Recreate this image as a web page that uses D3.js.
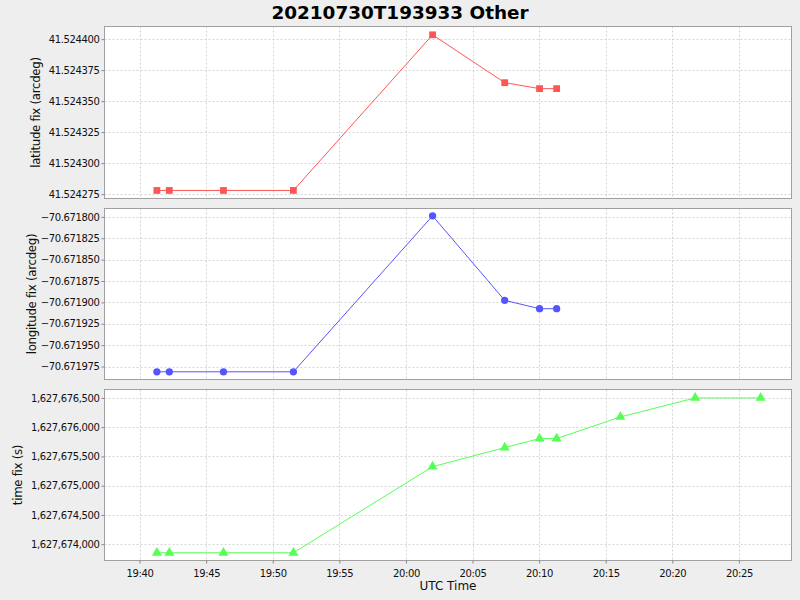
<!DOCTYPE html>
<html><head><meta charset="utf-8">
<script src="https://cdn.jsdelivr.net/npm/d3@7"></script>
<style>
html,body{margin:0;padding:0;background:#eeeeee;}
svg{display:block;font-family:"DejaVu Sans",sans-serif;}
</style></head>
<body><svg id="c" width="800" height="600"></svg>
<script>
// ---- data ----
const title = "20210730T193933 Other";
const times = ["19:41:18","19:42:14","19:46:18","19:51:33","20:02:00","20:07:25","20:10:02","20:11:19","20:16:06","20:21:43","20:26:38"];
const latitude = [41.524278,41.524278,41.524278,41.524278,41.5244035,41.5243649,41.5243601,41.5243601];
const longitude = [-70.6719812,-70.6719812,-70.6719812,-70.6719812,-70.6717988,-70.6718976,-70.6719074,-70.6719074];
const timeFix = [1627673853,1627673853,1627673853,1627673853,1627675325,1627675651,1627675805,1627675805,1627676175,1627676500,1627676500];
const xDomain = ["19:37:22","20:28:57"];
const xTicks = ["19:40","19:45","19:50","19:55","20:00","20:05","20:10","20:15","20:20","20:25"];
const latDomain = [41.5242715,41.5244102];
const latTicks = [41.524275,41.5243,41.524325,41.52435,41.524375,41.5244];
const lonDomain = [-70.6719902,-70.6717902];
const lonTicks = [-70.671975,-70.67195,-70.671925,-70.6719,-70.671875,-70.67185,-70.671825,-70.6718];
const tfDomain = [1627673721,1627676644];
const tfTicks = [1627674000,1627674500,1627675000,1627675500,1627676000,1627676500];

// ---- chart ----
const parseT = s => { const p = s.split(":").map(Number); return new Date(Date.UTC(2021,6,30,p[0],p[1],p[2]||0)); };
const svg = d3.select("#c");
const L = 104.5, R = 791.5;
const x = d3.scaleUtc().domain(xDomain.map(parseT)).range([L, R]);

svg.append("text").attr("x", 400).attr("y", 19).attr("text-anchor","middle")
  .attr("font-size","18.4px").attr("font-weight","bold").attr("fill","#000").text(title);

const panels = [
  {top:26.5, bot:198.5, dom:latDomain, ticks:latTicks, fmt:d3.format(".6f"), vals:latitude, color:"#ff5555", marker:"square", label:"latitude fix (arcdeg)", lx:36},
  {top:208.5, bot:379.5, dom:lonDomain, ticks:lonTicks, fmt:d3.format(".6f"), vals:longitude, color:"#5555ff", marker:"circle", label:"longitude fix (arcdeg)", lx:32},
  {top:389.5, bot:560.5, dom:tfDomain, ticks:tfTicks, fmt:d3.format(","), vals:timeFix, color:"#55ff55", marker:"triangle", label:"time fix (s)", lx:18}
];

panels.forEach((p, i) => {
  const y = d3.scaleLinear().domain(p.dom).range([p.bot, p.top]);
  const g = svg.append("g");
  g.append("rect").attr("x", L).attr("y", p.top).attr("width", R-L).attr("height", p.bot-p.top).attr("fill","#fff");
  // grid
  g.selectAll(".vg").data(xTicks.map(parseT)).join("line")
    .attr("x1", d=>Math.round(x(d))+0.5).attr("x2", d=>Math.round(x(d))+0.5).attr("y1", p.top).attr("y2", p.bot)
    .attr("stroke","#d4d4d4").attr("stroke-dasharray","2,2").attr("stroke-width",1);
  g.selectAll(".hg").data(p.ticks).join("line")
    .attr("y1", d=>Math.round(y(d))+0.5).attr("y2", d=>Math.round(y(d))+0.5).attr("x1", L).attr("x2", R)
    .attr("stroke","#d4d4d4").attr("stroke-dasharray","2,2").attr("stroke-width",1);
  // y axis
  const ya = d3.axisLeft(y).tickValues(p.ticks).tickFormat(p.fmt).tickSize(3).tickPadding(2);
  const yg = g.append("g").attr("transform",`translate(${L},0)`).call(ya);
  yg.select(".domain").remove();
  yg.selectAll("line").attr("stroke","#888");
  yg.selectAll("text").attr("font-size","10px").attr("letter-spacing","-0.36px").attr("fill","#111").attr("font-family","DejaVu Sans");
  g.append("text").attr("transform",`translate(${p.lx},${(p.top+p.bot)/2}) rotate(-90)`)
    .attr("text-anchor","middle").attr("dy","0.35em").attr("font-size","11.8px").attr("letter-spacing","-0.3px").attr("fill","#111").text(p.label);
  // line
  const pts = p.vals.map((v,k)=>[x(parseT(times[k])), y(v)]);
  g.append("path").attr("d", d3.line()(pts)).attr("fill","none").attr("stroke",p.color).attr("stroke-width",1);
  const sym = p.marker==="square" ? d3.symbolSquare : p.marker==="circle" ? d3.symbolCircle : d3.symbolTriangle;
  const size = p.marker==="square" ? 46 : p.marker==="circle" ? 42 : 44;
  g.selectAll(".m").data(pts).join("path")
    .attr("transform", d=>`translate(${d[0]},${d[1]})`)
    .attr("d", d3.symbol().type(sym).size(size)).attr("fill", p.color);
  // border
  g.append("rect").attr("x", L).attr("y", p.top).attr("width", R-L).attr("height", p.bot-p.top)
    .attr("fill","none").attr("stroke","#a0a0a0").attr("stroke-width",1);
  if (i === 2) {
    const xa = d3.axisBottom(x).tickValues(xTicks.map(parseT)).tickFormat(d3.utcFormat("%H:%M")).tickSize(3).tickPadding(6);
    const xg = g.append("g").attr("transform",`translate(0,${p.bot})`).call(xa);
    xg.select(".domain").remove();
    xg.selectAll("line").attr("stroke","#888");
    xg.selectAll("text").attr("font-size","10px").attr("letter-spacing","-0.36px").attr("fill","#111").attr("font-family","DejaVu Sans");
    svg.append("text").attr("x",(L+R)/2).attr("y",590).attr("text-anchor","middle").attr("font-size","12px").attr("fill","#111").text("UTC Time");
  }
});
</script></body></html>
